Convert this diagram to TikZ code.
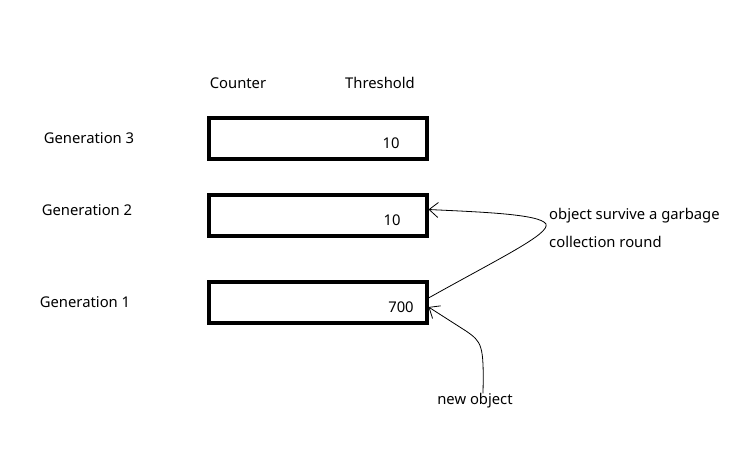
\documentclass[tikz,border=0pt]{standalone}
\usepackage{fontspec}
\setmainfont{Noto Sans}
\usepackage{tikz}
\usetikzlibrary{positioning,arrows.meta}

\begin{document}
\begin{tikzpicture}[
  x=1pt, y=-1pt,
  genbox/.style = {rectangle, draw=black, line width=4pt,
                   minimum width=218pt, minimum height=41pt, inner sep=0pt},
  lbl/.style    = {font=\fontsize{14.8}{17}\selectfont, inner sep=0pt},
  note/.style   = {lbl, anchor=west},
  arr/.style    = {-{Straight Barb[length=9pt,width=15pt]}, line width=0.8pt}
]
\useasboundingbox (0,0) rectangle (740,448);

% column heads
\node[lbl] (hcount) at (238,83) {Counter};
\node[lbl] (hthr)   at (380,83) {Threshold};

% one box per generation
\foreach \y/\g/\gx/\gy/\tx/\thr in {
    138.5/3/89/138/391/10,
    215.5/2/87/210/392/10,
    302/1/85/302/401/700}{
  \node[genbox] (g\g) at (317.5,\y) {};
  \node[lbl] (gl\g) at (\gx,\gy) {Generation \g};
  \node[lbl] (t\g) at (\tx,\y+5) {\thr};
}

\node[note] (survive) at (549,216) {object survive a garbage};
\node[note] (round)   at (549,242) {collection round};
\node[lbl]  (newobj)  at (475,401) {new object};

\draw[arr] ([yshift=4pt]g1.east)
  .. controls (500,258) and (550,234) .. (546,224)
  .. controls (540,214) and (480,212) .. ([yshift=6pt]g2.east);
\draw[arr] ([xshift=8pt]newobj.north)
  .. controls (484,345) and (482,342) .. (466,331)
  -- ([yshift=-5pt]g1.east);
\end{tikzpicture}
\end{document}
